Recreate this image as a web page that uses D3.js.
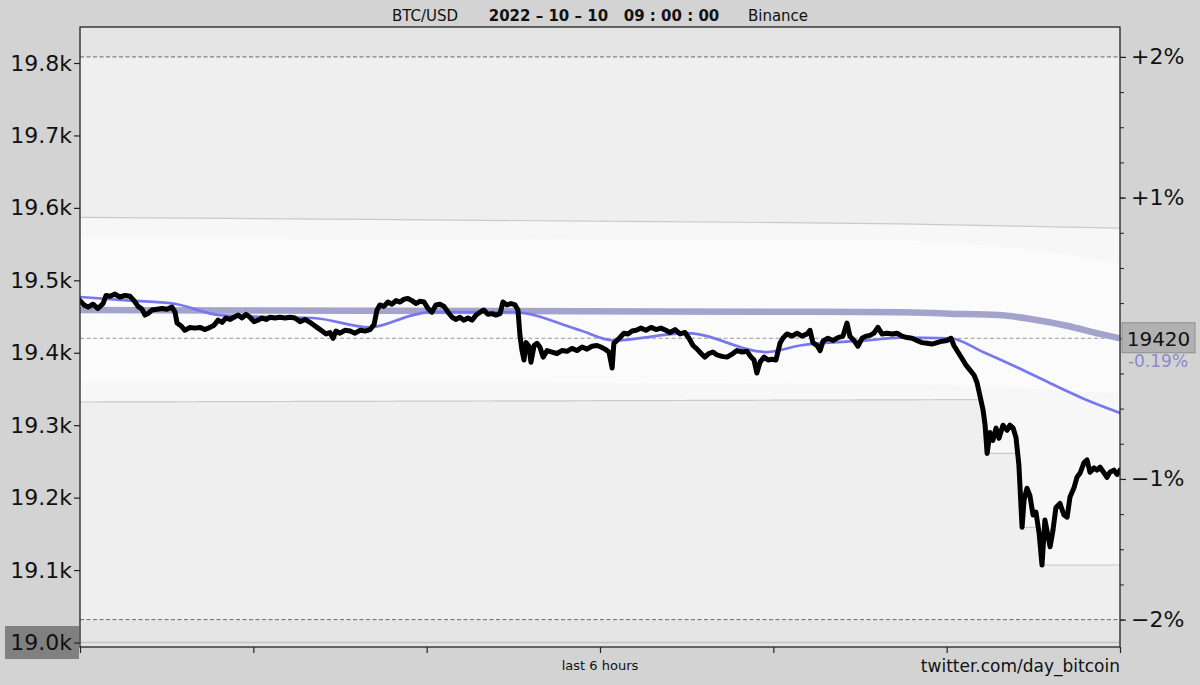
<!DOCTYPE html>
<html><head><meta charset="utf-8">
<script src="https://cdn.jsdelivr.net/npm/d3@7"></script>
<style>
body{margin:0;background:#d3d3d3;}
svg{display:block;font-family:"DejaVu Sans",sans-serif;}
</style>
</head><body><svg id="c" width="1200" height="685"></svg>
<script>
// ---------------- data ----------------
const priceMinutes = [0,1.4,2.8,4.5,6.2,8.0,9.0,10.4,12.1,13.8,15.6,17.3,18.7,20.1,21.5,22.5,23.5,24.9,26.7,28.4,30.1,31.8,32.9,33.6,35.0,36.3,38.1,39.8,41.5,43.3,45.0,46.4,47.8,49.2,50.5,51.9,53.3,54.7,56.1,57.5,58.8,60.2,61.6,63.0,64.4,65.8,67.5,69.2,71.0,72.7,74.4,76.2,77.9,79.6,81.0,82.4,83.8,85.2,86.5,87.6,88.6,90.0,91.7,93.5,95.2,96.9,98.7,100.4,101.8,102.8,103.8,105.2,106.6,108.0,109.4,110.8,112.2,113.5,114.9,116.3,117.7,119.1,120.5,121.8,123.2,124.6,126.0,127.4,128.8,130.2,131.5,132.9,134.3,135.7,137.1,138.5,139.8,141.2,142.6,144.0,145.4,146.4,147.8,149.2,150.6,151.6,152.3,153.0,153.7,154.4,155.4,156.1,157.2,158.2,159.2,160.3,161.7,163.4,165.1,166.8,168.6,170.3,172.0,173.8,175.5,177.2,179.0,180.3,181.7,183.1,184.2,184.8,185.9,186.9,188.3,189.7,191.1,192.5,194.2,195.9,197.7,199.4,201.1,202.8,204.2,206.0,207.7,209.4,210.8,212.2,213.6,215.0,216.3,217.7,219.1,220.5,222.2,224.0,225.7,227.4,229.2,230.9,232.3,233.3,234.3,235.4,236.8,238.2,239.5,240.9,242.3,243.3,244.7,246.5,248.2,249.9,251.7,252.7,253.7,255.1,256.2,257.2,258.9,260.7,262.4,264.1,265.5,266.5,267.9,269.3,270.7,272.1,273.5,274.8,276.2,277.6,279.3,281.1,282.8,284.5,286.3,288.0,289.7,291.5,293.2,294.9,296.7,298.4,300.1,301.5,302.5,303.9,305.3,306.7,308.1,309.5,310.5,311.5,312.6,313.3,314.0,315.0,316.0,317.1,318.1,319.5,320.9,321.9,323.0,324.0,325.0,325.4,326.1,326.8,327.8,328.8,329.9,330.9,332.0,333.0,334.0,334.7,335.8,336.8,337.8,339.2,340.6,341.7,342.7,344.1,345.1,346.2,347.5,348.6,349.6,351.0,352.0,353.1,354.5,355.5,356.5,357.9,359.0,360];
const priceValues = [19472,19466,19463,19467,19461,19468,19479,19478,19481,19477,19479,19478,19472,19464,19460,19452,19454,19459,19460,19461,19460,19463,19456,19441,19437,19431,19435,19434,19435,19432,19435,19438,19445,19442,19448,19446,19449,19452,19448,19453,19449,19443,19445,19448,19446,19449,19448,19449,19448,19449,19448,19443,19446,19442,19438,19434,19430,19426,19428,19420,19430,19427,19431,19430,19427,19431,19430,19432,19439,19459,19466,19464,19470,19467,19472,19470,19474,19475,19472,19468,19471,19470,19461,19456,19466,19467,19464,19456,19449,19446,19449,19445,19448,19445,19452,19456,19459,19453,19454,19452,19454,19470,19466,19468,19466,19459,19424,19403,19390,19414,19409,19387,19410,19413,19408,19394,19403,19401,19399,19403,19402,19406,19403,19408,19405,19409,19410,19408,19405,19401,19379,19413,19417,19421,19427,19426,19430,19431,19434,19431,19435,19432,19434,19431,19428,19432,19426,19428,19420,19410,19405,19399,19394,19399,19401,19397,19395,19394,19398,19403,19401,19402,19394,19390,19372,19387,19394,19390,19391,19390,19413,19420,19426,19423,19427,19423,19426,19431,19414,19410,19403,19416,19420,19417,19421,19423,19441,19423,19417,19409,19420,19423,19424,19427,19435,19426,19427,19426,19427,19423,19421,19420,19417,19414,19413,19412,19414,19416,19417,19420,19410,19401,19392,19383,19376,19369,19359,19341,19321,19300,19261,19290,19279,19296,19282,19300,19293,19300,19296,19283,19245,19214,19159,19197,19213,19203,19176,19180,19151,19107,19169,19155,19132,19155,19186,19192,19176,19173,19201,19214,19228,19234,19248,19252,19235,19241,19238,19242,19234,19228,19235,19238,19232,19238];

const maMinutes = [0,17.3,32.2,48.5,69.2,80.7,100.4,115.3,121.2,149.9,173.1,184.5,210.1,237.8,249.2,272.4,283.8,301.2,312.6,324.3,335.8,347.2,360];
const maValues  = [19477,19472,19468,19452,19449,19448,19435,19452,19456,19456,19431,19417,19427,19401,19410,19417,19421,19420,19401,19380,19358,19337,19317];

const longMaMinutes = [0,100,200,284,301,318,330,342,353,360];
const longMaValues  = [19459,19458,19457,19456,19454,19452,19446,19437,19426,19420];

const bandMinutes = [0,100,200,284,360];
const bandUpper   = [19587,19584,19581,19578,19572];
const bandLower   = [19332,19333,19334,19335,19336];

const innerMinutes = [0,100,200,284,305,332,346,360];
const innerUpper   = [19558,19557,19556,19555,19551,19541,19533,19523];
const innerLower   = [19359,19359,19358,19357,19355,19350,19347,19344];

const leftTicks = [19000,19100,19200,19300,19400,19500,19600,19700,19800];
const highlightTick = 19000;
const levelLine = 19000;
const refPrice = 19420;
const pctMajor = [-2,-1,1,2];
const pctMinor = [-2,-1.75,-1.5,-1.25,-1,-0.75,-0.5,-0.25,0,0.25,0.5,0.75,1,1.25,1.5,1.75,2];
const pctDashed = [-2,0,2];
const xTicks = [0,60,120,180,240,300,360];
const titleParts = ["BTC/USD","2022 – 10 – 10   09 : 00 : 00","Binance"];
const lastLabel = "19420";
const changeLabel = "-0.19%";
const xLabel = "last 6 hours";
const credit = "twitter.com/day_bitcoin";

// ---------------- layout ----------------
const W = 1200, H = 685;
const m = {left:80, right:80, top:27, bottom:38};
const pw = W - m.left - m.right, ph = H - m.top - m.bottom;

const svg = d3.select("#c");
svg.append("rect").attr("width",W).attr("height",H).attr("fill","#d3d3d3");

const x = d3.scaleLinear().domain([0,360]).range([m.left, m.left+pw]);
const y = d3.scaleLinear().domain([18993.8, 19849.7]).range([m.top+ph, m.top]);
const pctToPrice = p => refPrice*(1+p/100);
const yPct = d3.scaleLinear()
  .domain([(y.domain()[0]/refPrice-1)*100, (y.domain()[1]/refPrice-1)*100])
  .range(y.range());

svg.append("clipPath").attr("id","clip").append("rect")
  .attr("x",m.left).attr("y",m.top).attr("width",pw).attr("height",ph);
const g = svg.append("g").attr("clip-path","url(#clip)");

// backgrounds
g.append("rect").attr("x",m.left).attr("y",m.top).attr("width",pw).attr("height",ph).attr("fill","#e4e4e4");
g.append("rect").attr("x",m.left).attr("width",pw)
  .attr("y",y(pctToPrice(2))).attr("height",y(pctToPrice(-2))-y(pctToPrice(2))).attr("fill","#efefef");

// band with running min of price
const lowInterp = d3.scaleLinear().domain(bandMinutes).range(bandLower);
const upInterp = d3.scaleLinear().domain(bandMinutes).range(bandUpper);
let cmin = Infinity;
const bandPts = priceMinutes.map((t,i)=>{
  cmin = Math.min(cmin, priceValues[i]);
  return {t, lo: Math.min(lowInterp(t), cmin), hi: upInterp(t)};
});
g.append("path").datum(bandPts)
  .attr("d", d3.area().x(d=>x(d.t)).y0(d=>y(d.lo)).y1(d=>y(d.hi)))
  .attr("fill","#f7f7f7");
const innerPts = innerMinutes.map((t,i)=>({t, lo:innerLower[i], hi:innerUpper[i]}));
g.append("path").datum(innerPts)
  .attr("d", d3.area().curve(d3.curveMonotoneX).x(d=>x(d.t)).y0(d=>y(d.lo)).y1(d=>y(d.hi)))
  .attr("fill","#fbfbfb");
g.append("path").datum(bandMinutes.map((t,i)=>({t,v:bandUpper[i]})))
  .attr("d", d3.line().curve(d3.curveMonotoneX).x(d=>x(d.t)).y(d=>y(d.v)))
  .attr("fill","none").attr("stroke","#cacaca").attr("stroke-width",1.2);
g.append("path").datum(bandPts)
  .attr("d", d3.line().x(d=>x(d.t)).y(d=>y(d.lo)))
  .attr("fill","none").attr("stroke","#cacaca").attr("stroke-width",1.2);

// level line
g.append("line").attr("x1",m.left).attr("x2",m.left+pw)
  .attr("y1",y(levelLine)).attr("y2",y(levelLine)).attr("stroke","#c2c2c2").attr("stroke-width",1.5);

// dashed pct lines
pctDashed.forEach(p=>{
  g.append("line").attr("x1",m.left).attr("x2",m.left+pw)
    .attr("y1",y(pctToPrice(p))).attr("y2",y(pctToPrice(p)))
    .attr("stroke", p===0 ? "#9a9a9a" : "#6a6a6a").attr("stroke-width",1)
    .attr("stroke-dasharray","4,2.5");
});

// long MA (thick)
g.append("path").datum(longMaMinutes.map((t,i)=>({t,v:longMaValues[i]})))
  .attr("d", d3.line().curve(d3.curveMonotoneX).x(d=>x(d.t)).y(d=>y(d.v)))
  .attr("fill","none").attr("stroke","#a3a3cc").attr("stroke-width",6.5);

// MA (thin)
g.append("path").datum(maMinutes.map((t,i)=>({t,v:maValues[i]})))
  .attr("d", d3.line().curve(d3.curveMonotoneX).x(d=>x(d.t)).y(d=>y(d.v)))
  .attr("fill","none").attr("stroke","#7878ee").attr("stroke-width",2.7);

// price
g.append("path").datum(priceMinutes.map((t,i)=>({t,v:priceValues[i]})))
  .attr("d", d3.line().x(d=>x(d.t)).y(d=>y(d.v)))
  .attr("fill","none").attr("stroke","#000").attr("stroke-width",5)
  .attr("stroke-linejoin","round").attr("stroke-linecap","round");

// frame
svg.append("rect").attr("x",m.left).attr("y",m.top).attr("width",pw).attr("height",ph)
  .attr("fill","none").attr("stroke","#222").attr("stroke-width",1.3);

// left axis highlight box
svg.append("rect").attr("x",5).attr("y",y(highlightTick)-16.5).attr("width",74).attr("height",33).attr("fill","#808080");

const la = svg.append("g").attr("transform",`translate(${m.left},0)`)
  .call(d3.axisLeft(y).tickValues(leftTicks).tickSize(6).tickPadding(2)
    .tickFormat(d=>(d/1000).toFixed(1)+"k"));
la.select(".domain").remove();
la.selectAll("line").attr("stroke","#222").attr("stroke-width",1.2);
la.selectAll("text").attr("font-size",22).attr("fill","#111").attr("font-family","DejaVu Sans");

// right axis
const ra = svg.append("g").attr("transform",`translate(${m.left+pw},0)`)
  .call(d3.axisRight(yPct).tickValues(pctMajor).tickSize(6).tickPadding(5)
    .tickFormat(p=> (p>0?"+":"\u2212")+Math.abs(p)+"%"));
ra.select(".domain").remove();
ra.selectAll("line").attr("stroke","#222").attr("stroke-width",1.2);
ra.selectAll("text").attr("font-size",22).attr("fill","#111").attr("font-family","DejaVu Sans");
const rm = svg.append("g").attr("transform",`translate(${m.left+pw},0)`)
  .call(d3.axisRight(yPct).tickValues(pctMinor).tickSize(4).tickFormat(""));
rm.select(".domain").remove();
rm.selectAll("line").attr("stroke","#222").attr("stroke-width",1);

// bottom axis
const ba = svg.append("g").attr("transform",`translate(0,${m.top+ph})`)
  .call(d3.axisBottom(x).tickValues(xTicks).tickSize(6).tickFormat(""));
ba.select(".domain").remove();
ba.selectAll("line").attr("stroke","#222").attr("stroke-width",1.2);

// last value label
const ly = y(longMaValues[longMaValues.length-1]);
svg.append("rect").attr("x",1122).attr("y",ly-15.5).attr("width",73).attr("height",30)
  .attr("fill","#b1b1b1").attr("stroke","#8e8e8e").attr("stroke-width",1);
svg.append("text").attr("x",1158.5).attr("y",ly+7.5).attr("text-anchor","middle")
  .attr("font-size",20).attr("fill","#111").text(lastLabel);
svg.append("text").attr("x",1158).attr("y",ly+29).attr("text-anchor","middle")
  .attr("font-size",17).attr("fill","#8a8acb").text(changeLabel);

// title
const tx = [425, 604, 778];
titleParts.forEach((s,i)=>{
  svg.append("text").attr("x",tx[i]).attr("y",21).attr("text-anchor","middle")
    .attr("font-size",15).attr("font-weight", i===1?"bold":"normal")
    .attr("fill","#111").style("white-space","pre").text(s);
});

// bottom texts
svg.append("text").attr("x",600).attr("y",670).attr("text-anchor","middle")
  .attr("font-size",13).attr("fill","#111").text(xLabel);
svg.append("text").attr("x",1120).attr("y",672).attr("text-anchor","end")
  .attr("font-size",17).attr("fill","#111").text(credit);
</script>
</body></html>
